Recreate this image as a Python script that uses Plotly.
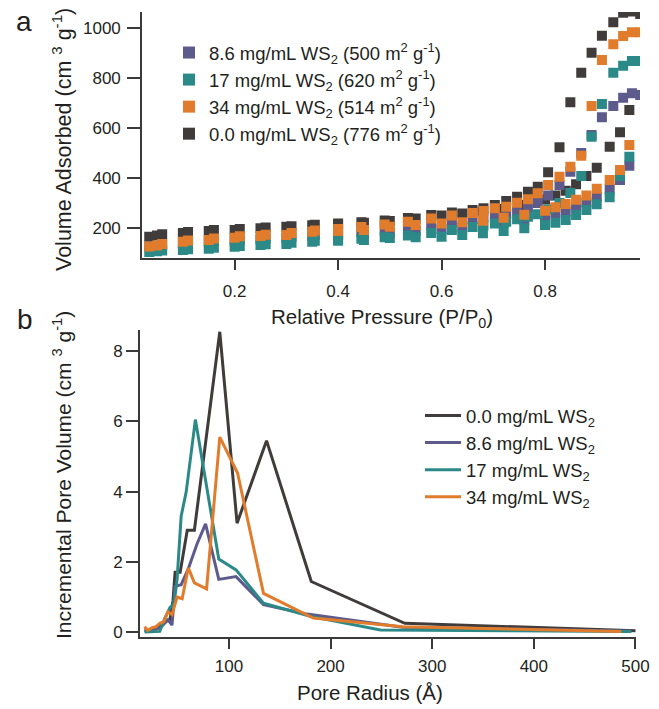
import plotly.graph_objects as go

# ---------------- Panel a: N2 isotherms ----------------
P_ADS = [0.035, 0.05, 0.10, 0.15, 0.20, 0.25, 0.30, 0.35, 0.40, 0.45, 0.50, 0.55, 0.60, 0.64,
         0.68, 0.72, 0.76, 0.80, 0.82, 0.84, 0.86, 0.88, 0.90, 0.925, 0.945, 0.963, 0.984]
P_DES = [0.968, 0.951, 0.932, 0.910, 0.890, 0.870, 0.849, 0.828, 0.806, 0.786, 0.767, 0.746,
         0.725, 0.703, 0.681, 0.66, 0.62, 0.58, 0.535, 0.49, 0.445, 0.40, 0.355, 0.31, 0.26,
         0.21, 0.16, 0.11, 0.06]

ADS_00 = [165, 170, 180, 188, 192, 199, 205, 211, 216, 221, 228, 238, 250, 258, 266, 276, 292,
          315, 330, 349, 375, 408, 441, 525, 583, 672, 1056]
DES_00 = [1066, 1061, 1023, 969, 901, 821, 703, 523, 423, 365, 345, 325, 308, 292, 279, 272, 262,
          252, 240, 230, 223, 218, 213, 207, 202, 196, 192, 184, 175]
ADS_86 = [125, 127, 140, 145, 150, 155, 160, 168, 172, 175, 182, 188, 195, 202, 210, 220, 232,
          245, 259, 265, 285, 303, 325, 355, 392, 449, 732]
DES_86 = [739, 721, 688, 643, 572, 500, 425, 372, 330, 300, 283, 270, 258, 250, 243, 236, 222,
          210, 198, 190, 182, 178, 172, 165, 158, 152, 147, 142, 132]
ADS_17 = [104, 107, 112, 117, 125, 132, 136, 145, 149, 152, 160, 163, 165, 172, 179, 188, 199,
          212, 221, 232, 252, 272, 295, 323, 408, 485, 868]
DES_17 = [868, 849, 821, 696, 565, 408, 340, 300, 275, 255, 245, 235, 225, 218, 210, 204, 192,
          180, 170, 163, 157, 153, 149, 141, 135, 128, 121, 115, 110]
ADS_34 = [126, 130, 145, 152, 161, 168, 172, 185, 188, 192, 205, 212, 218, 223, 229, 241, 253,
          269, 283, 296, 313, 330, 357, 392, 432, 532, 983]
DES_34 = [983, 968, 935, 872, 688, 489, 445, 405, 372, 339, 315, 301, 285, 279, 268, 260, 250,
          238, 225, 214, 204, 196, 190, 180, 173, 167, 158, 150, 136]

ISO_NAMES = ["0.0 mg/mL WS<sub>2</sub> (776 m<sup>2</sup> g<sup>-1</sup>)",
             "8.6 mg/mL WS<sub>2</sub> (500 m<sup>2</sup> g<sup>-1</sup>)",
             "17 mg/mL WS<sub>2</sub> (620 m<sup>2</sup> g<sup>-1</sup>)",
             "34 mg/mL WS<sub>2</sub> (514 m<sup>2</sup> g<sup>-1</sup>)"]
ISO_RANK = [4, 1, 2, 3]

# ---------------- Panel b: pore size distributions ----------------
R_00 = [17, 22, 27, 32, 37, 42, 45, 47, 52, 59, 66, 91, 108, 137, 181, 273, 500]
V_00 = [0.05, 0.03, 0.08, 0.15, 0.3, 0.35, 0.9, 1.7, 1.7, 2.9, 2.9, 8.55, 3.1, 5.45, 1.44, 0.25, 0.04]
R_86 = [17, 22, 27, 32, 35, 40, 44, 47, 53, 60, 68.5, 77, 90, 107, 134, 175, 271, 495]
V_86 = [0.05, 0.05, 0.08, 0.12, 0.2, 0.35, 0.2, 1.3, 1.35, 1.8, 2.5, 3.08, 1.5, 1.58, 0.78, 0.52, 0.14, 0.03]
R_17 = [17, 22, 27, 32, 37, 42, 46, 49, 53, 58, 67, 90, 107, 134, 180, 249, 496]
V_17 = [0.0, 0.0, 0.0, 0.02, 0.4, 0.7, 0.8, 1.5, 3.3, 4.0, 6.05, 2.08, 1.77, 0.82, 0.45, 0.06, 0.02]
R_34 = [17, 20, 24, 28, 32, 36, 40, 44, 49, 54, 60, 66, 78, 91, 108.5, 134, 183, 271, 486]
V_34 = [0.15, 0.05, 0.12, 0.15, 0.25, 0.3, 0.58, 0.5, 1.0, 0.95, 1.83, 1.4, 1.23, 5.55, 4.53, 1.1, 0.4, 0.15, 0.02]

PSD_NAMES = ["0.0 mg/mL WS<sub>2</sub>", "8.6 mg/mL WS<sub>2</sub>",
             "17 mg/mL WS<sub>2</sub>", "34 mg/mL WS<sub>2</sub>"]

COLORS = ["#403c3b", "#5d5a8c", "#2b8a87", "#e17c2c"]

FONT = "Liberation Sans, Arial, sans-serif"
TXT = "#231f20"
AX = "#3a3a3a"

fig = go.Figure()

ads = [ADS_00, ADS_86, ADS_17, ADS_34]
des = [DES_00, DES_86, DES_17, DES_34]
for i in range(4):
    fig.add_trace(go.Scatter(
        x=P_ADS + P_DES, y=ads[i] + des[i], mode="markers",
        marker=dict(symbol="square", size=10, color=COLORS[i], line=dict(width=0)),
        name=ISO_NAMES[i], legendrank=ISO_RANK[i], legend="legend",
        xaxis="x", yaxis="y"))

Rs = [R_00, R_86, R_17, R_34]
Vs = [V_00, V_86, V_17, V_34]
for i in range(4):
    fig.add_trace(go.Scatter(
        x=Rs[i], y=Vs[i], mode="lines",
        line=dict(color=COLORS[i], width=3),
        name=PSD_NAMES[i], legendrank=i + 1, legend="legend2",
        xaxis="x2", yaxis="y2"))

W, H = 659, 709

def px_x(p):
    return p / W

def px_y(p):
    return 1 - p / H

axis_common = dict(showgrid=False, zeroline=False, showline=True, linecolor=AX, linewidth=1.6,
                   ticks="outside", tickwidth=1.6, tickcolor=AX,
                   tickfont=dict(family=FONT, size=17, color=TXT), automargin=False)

fig.update_layout(
    width=W, height=H, margin=dict(l=0, r=0, t=0, b=0),
    paper_bgcolor="white", plot_bgcolor="white",
    font=dict(family=FONT, color=TXT),
    xaxis=dict(domain=[px_x(142), px_x(640)], range=[0.021, 0.9836], tickvals=[0.2, 0.4, 0.6, 0.8],
               anchor="y", ticklen=10, ticklabelstandoff=7, **axis_common),
    yaxis=dict(domain=[px_y(258), px_y(12)], range=[80, 1064], tickvals=[200, 400, 600, 800, 1000],
               anchor="x", ticklen=13, ticklabelstandoff=3, **axis_common),
    xaxis2=dict(domain=[px_x(140), px_x(636)], range=[12.5, 500.5], tickvals=[100, 200, 300, 400, 500],
                anchor="y2", ticklen=10, ticklabelstandoff=3, **axis_common),
    yaxis2=dict(domain=[px_y(637), px_y(330)], range=[-0.14, 8.6], tickvals=[0, 2, 4, 6, 8],
                anchor="x2", ticklen=12, ticklabelstandoff=0, **axis_common),
    showlegend=True,
    legend=dict(x=px_x(169), y=px_y(34), xanchor="left", yanchor="top", bgcolor="rgba(0,0,0,0)",
                font=dict(family=FONT, size=18.5, color=TXT), tracegroupgap=0, itemsizing="constant"),
    legend2=dict(x=px_x(420), y=px_y(397), xanchor="left", yanchor="top", bgcolor="rgba(0,0,0,0)",
                 font=dict(family=FONT, size=18.5, color=TXT), tracegroupgap=0, itemwidth=36),
)

ann = [
    dict(text="a", x=px_x(24), y=px_y(22), font=dict(size=28)),
    dict(text="b", x=px_x(25), y=px_y(319), font=dict(size=28)),
    dict(text="Volume Adsorbed (cm <sup>3</sup> g<sup>-1</sup>)", x=px_x(62), y=px_y(140),
         textangle=-90, font=dict(size=21.5)),
    dict(text="Incremental Pore Volume (cm <sup>3</sup> g<sup>-1</sup>)", x=px_x(62), y=px_y(475),
         textangle=-90, font=dict(size=21)),
    dict(text="Relative Pressure (P/P<sub>0</sub>)", x=px_x(382), y=px_y(318), font=dict(size=20.5)),
    dict(text="Pore Radius (Å)", x=px_x(370), y=px_y(692), font=dict(size=20.5)),
]
for a in ann:
    a.update(xref="paper", yref="paper", showarrow=False, xanchor="center", yanchor="middle")
    a["font"].update(family=FONT, color=TXT)
fig.update_layout(annotations=ann)

fig.write_html("out.html")
